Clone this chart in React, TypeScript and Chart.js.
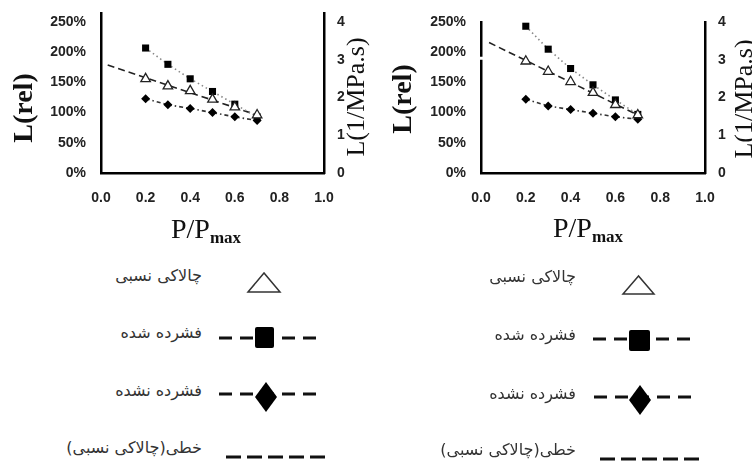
import React, { useEffect, useRef } from "react";
import { Chart, registerables } from "chart.js";

Chart.register(...registerables);

// ---------- data ----------
const xValues = [0.2, 0.3, 0.4, 0.5, 0.6, 0.7];
const xTickStep = 0.2;
const yTickValues = [0, 50, 100, 150, 200, 250];
const rightTickValues = [0, 1, 2, 3, 4];

const seriesLabels = ["چالاکی نسبی", "فشرده شده", "فشرده نشده", "خطی(چالاکی نسبی)"];

// left panel
const leftRelative = [156, 144, 136, 122, 109, 96];
const leftCompressed = [207, 180, 156, 135, 114, 93];
const leftUncompressed = [123, 113, 107, 100, 93, 87];
const leftTrendX = [0.03, 0.7];
const leftTrendY = [179, 96];

// right panel
const rightRelative = [185, 168, 151, 133, 113, 96];
const rightCompressed = [243, 205, 173, 146, 121, 97];
const rightUncompressed = [122, 111, 105, 99, 93, 89];
const rightTrendX = [0.036, 0.7];
const rightTrendY = [216, 96];

const CW = 376;
const CH = 250;

type Box = { left: number; right: number; top: number; bottom: number };
type TitlePos = { yl: [number, number]; yr: [number, number]; x: [number, number] };

type PanelProps = {
  ox: number;
  relative: number[];
  compressed: number[];
  uncompressed: number[];
  trendX: number[];
  trendY: number[];
  yMax: number;
  yTop: number;
  box: Box;
  titles: TitlePos;
  axisGap?: number;
};

function pts(xs: number[], ys: number[]) {
  return xs.map((x, i) => ({ x, y: ys[i] }));
}

function Panel(p: PanelProps) {
  const ref = useRef<HTMLCanvasElement | null>(null);
  useEffect(() => {
    if (!ref.current) return;
    const tickFont = { family: '"Liberation Sans", Arial, sans-serif', size: 14, weight: "bold" as const };
    const titlePlugin = {
      id: "axisTitles",
      afterDraw(chart: any) {
        const ctx = chart.ctx as CanvasRenderingContext2D;
        const t = p.titles;
        ctx.save();
        if (p.axisGap !== undefined) {
          const gy = chart.scales.y.getPixelForValue(p.axisGap);
          ctx.fillStyle = "#fff";
          ctx.fillRect(chart.chartArea.left - 3, gy - 1.5, 6, 3);
        }
        ctx.fillStyle = "#111";
        ctx.textAlign = "center";
        ctx.textBaseline = "middle";
        ctx.save();
        ctx.translate(t.yl[0], t.yl[1]);
        ctx.rotate(-Math.PI / 2);
        ctx.font = 'bold 28px "Liberation Serif", serif';
        ctx.fillText("L(rel)", 0, 0);
        ctx.restore();
        ctx.save();
        ctx.translate(t.yr[0], t.yr[1]);
        ctx.rotate(-Math.PI / 2);
        ctx.font = '26px "Liberation Serif", serif';
        ctx.fillText("L(1/MPa.s)", 0, 0);
        ctx.restore();
        ctx.textAlign = "left";
        ctx.textBaseline = "alphabetic";
        ctx.font = '28px "Liberation Serif", serif';
        ctx.fillText("P/P", t.x[0], t.x[1]);
        const w = ctx.measureText("P/P").width;
        ctx.font = 'bold 17px "Liberation Serif", serif';
        ctx.fillText("max", t.x[0] + w, t.x[1] + 5);
        ctx.restore();
      },
    };
    const noPad = (s: any) => {
      s.paddingTop = 0;
      s.paddingBottom = 0;
      s.paddingLeft = 0;
      s.paddingRight = 0;
    };
    const chart = new Chart(ref.current, {
      type: "scatter",
      data: {
        datasets: [
          {
            label: seriesLabels[0],
            data: pts(xValues, p.relative),
            pointStyle: "triangle",
            pointRadius: 5.5,
            pointBorderWidth: 1.3,
            pointBackgroundColor: "#fff",
            pointBorderColor: "#222",
            showLine: false,
            clip: false as any,
          },
          {
            label: seriesLabels[1],
            data: pts(xValues, p.compressed),
            pointStyle: "rect",
            pointRadius: 5,
            pointBorderWidth: 0,
            pointBackgroundColor: "#000",
            pointBorderColor: "#000",
            showLine: true,
            borderColor: "#888",
            borderWidth: 1.6,
            borderDash: [1.5, 3],
            clip: false as any,
          },
          {
            label: seriesLabels[2],
            data: pts(xValues, p.uncompressed),
            pointStyle: "rectRot",
            pointRadius: 4.5,
            pointBorderWidth: 0,
            pointBackgroundColor: "#000",
            pointBorderColor: "#000",
            showLine: true,
            borderColor: "#333",
            borderWidth: 1.6,
            borderDash: [4, 3, 1.5, 3],
            clip: false as any,
          },
          {
            label: seriesLabels[3],
            data: pts(p.trendX, p.trendY),
            pointRadius: 0,
            showLine: true,
            borderColor: "#222",
            borderWidth: 1.6,
            borderDash: [7, 4],
            clip: false as any,
          },
        ],
      },
      options: {
        animation: false,
        responsive: false,
        events: [],
        layout: { padding: { top: p.yTop, left: 0, right: 0, bottom: 0 } },
        plugins: { legend: { display: false }, tooltip: { enabled: false }, title: { display: false } },
        scales: {
          x: {
            type: "linear",
            min: 0,
            max: 1,
            ticks: {
              stepSize: xTickStep,
              padding: 17,
              color: "#222",
              font: tickFont,
              callback: (v: any) => Number(v).toFixed(1),
            },
            grid: { display: false, drawTicks: false, tickLength: 0 },
            border: { display: true, color: "#000", width: 2.5 },
            afterFit: (s: any) => {
              s.height = CH - p.box.bottom;
              noPad(s);
            },
          },
          y: {
            type: "linear",
            position: "left",
            min: 0,
            max: p.yMax,
            afterBuildTicks: (s: any) => {
              s.ticks = yTickValues.map((v) => ({ value: v }));
              s.min = 0;
              s.max = p.yMax;
            },
            ticks: {
              padding: 15,
              color: "#222",
              font: tickFont,
              callback: (v: any) => v + "%",
            },
            grid: { display: false, drawTicks: false, tickLength: 0 },
            border: { display: true, color: "#000", width: 2.5 },
            afterFit: (s: any) => {
              s.width = p.box.left;
              noPad(s);
            },
          },
          y2: {
            type: "linear",
            position: "right",
            min: 0,
            max: (p.yMax / 250) * 4,
            afterBuildTicks: (s: any) => {
              s.ticks = rightTickValues.map((v) => ({ value: v }));
              s.min = 0;
              s.max = (p.yMax / 250) * 4;
            },
            ticks: {
              padding: 13,
              color: "#222",
              font: tickFont,
              callback: (v: any) => String(v),
            },
            grid: { display: false, drawTicks: false, tickLength: 0 },
            border: { display: true, color: "#000", width: 2.5 },
            afterFit: (s: any) => {
              s.width = CW - p.box.right;
              noPad(s);
            },
          },
        },
      } as any,
      plugins: [titlePlugin],
    });
    return () => chart.destroy();
  }, []);
  return (
    <canvas
      ref={ref}
      width={CW}
      height={CH}
      style={{ position: "absolute", left: p.ox, top: 0, width: CW, height: CH, display: "block" }}
    />
  );
}

type LegendGeom = {
  textRight: number;
  textY: number[];
  tri: [number, number, number, number, number, number];
  sqLine: [number, number, number];
  sq: [number, number, number, number];
  diLine: [number, number, number];
  di: [number, number, number, number];
  lin: [number, number, number];
};

function Legend({ g }: { g: LegendGeom }) {
  return (
    <>
      {seriesLabels.map((lab, i) => (
        <div
          key={i}
          style={{
            position: "absolute",
            left: g.textRight - 250,
            width: 250,
            top: g.textY[i] - 10,
            height: 20,
            lineHeight: "20px",
            textAlign: "right",
            direction: "rtl",
            fontFamily: '"DejaVu Sans", sans-serif',
            fontSize: 16,
            color: "#333",
            whiteSpace: "nowrap",
          }}
        >
          {lab}
        </div>
      ))}
      <svg
        width={752}
        height={467}
        style={{ position: "absolute", left: 0, top: 0, pointerEvents: "none" }}
      >
        <polygon
          points={`${g.tri[0]},${g.tri[1]} ${g.tri[2]},${g.tri[3]} ${g.tri[4]},${g.tri[5]}`}
          fill="#fff"
          stroke="#333"
          strokeWidth={1.5}
        />
        <line x1={g.sqLine[0]} x2={g.sqLine[1]} y1={g.sqLine[2]} y2={g.sqLine[2]} stroke="#111" strokeWidth={3} strokeDasharray="13 8" />
        <rect x={g.sq[0]} y={g.sq[1]} width={g.sq[2]} height={g.sq[3]} rx={2} fill="#000" />
        <line x1={g.diLine[0]} x2={g.diLine[1]} y1={g.diLine[2]} y2={g.diLine[2]} stroke="#111" strokeWidth={3} strokeDasharray="13 8" />
        <polygon
          points={`${g.di[0]},${g.di[1] - g.di[3]} ${g.di[0] + g.di[2]},${g.di[1]} ${g.di[0]},${g.di[1] + g.di[3]} ${g.di[0] - g.di[2]},${g.di[1]}`}
          fill="#000"
        />
        <line x1={g.lin[0]} x2={g.lin[1]} y1={g.lin[2]} y2={g.lin[2]} stroke="#111" strokeWidth={3} strokeDasharray="15 6" />
      </svg>
    </>
  );
}

const leftLegend: LegendGeom = {
  textRight: 202,
  textY: [276, 333, 391, 448],
  tri: [264, 273, 248, 292, 280, 292],
  sqLine: [219, 317, 338],
  sq: [255, 327, 19, 21],
  diLine: [219, 318, 394],
  di: [266, 397, 11, 15],
  lin: [226, 326, 457],
};

const rightLegend: LegendGeom = {
  textRight: 576,
  textY: [277, 335, 394, 450],
  tri: [638.5, 276, 623, 294, 654, 294],
  sqLine: [593, 691, 339],
  sq: [629, 330, 21, 21],
  diLine: [594, 692, 397],
  di: [640, 400, 11, 15],
  lin: [600, 701, 459],
};

export default function App() {
  return (
    <div style={{ position: "absolute", left: 0, top: 0, width: 752, height: 467, background: "#fff", overflow: "hidden" }}>
      <Panel
        ox={0}
        relative={leftRelative}
        compressed={leftCompressed}
        uncompressed={leftUncompressed}
        trendX={leftTrendX}
        trendY={leftTrendY}
        yMax={265}
        yTop={13}
        box={{ left: 101, right: 324, top: 13, bottom: 173 }}
        titles={{ yl: [25, 108], yr: [357, 97], x: [171, 238] }}
      />
      <Panel
        ox={376}
        relative={rightRelative}
        compressed={rightCompressed}
        uncompressed={rightUncompressed}
        trendX={rightTrendX}
        trendY={rightTrendY}
        yMax={250}
        yTop={22}
        box={{ left: 105, right: 329, top: 22, bottom: 173 }}
        titles={{ yl: [28, 99], yr: [369, 99], x: [177, 237] }}
        axisGap={190}
      />
      <Legend g={leftLegend} />
      <Legend g={rightLegend} />
    </div>
  );
}
